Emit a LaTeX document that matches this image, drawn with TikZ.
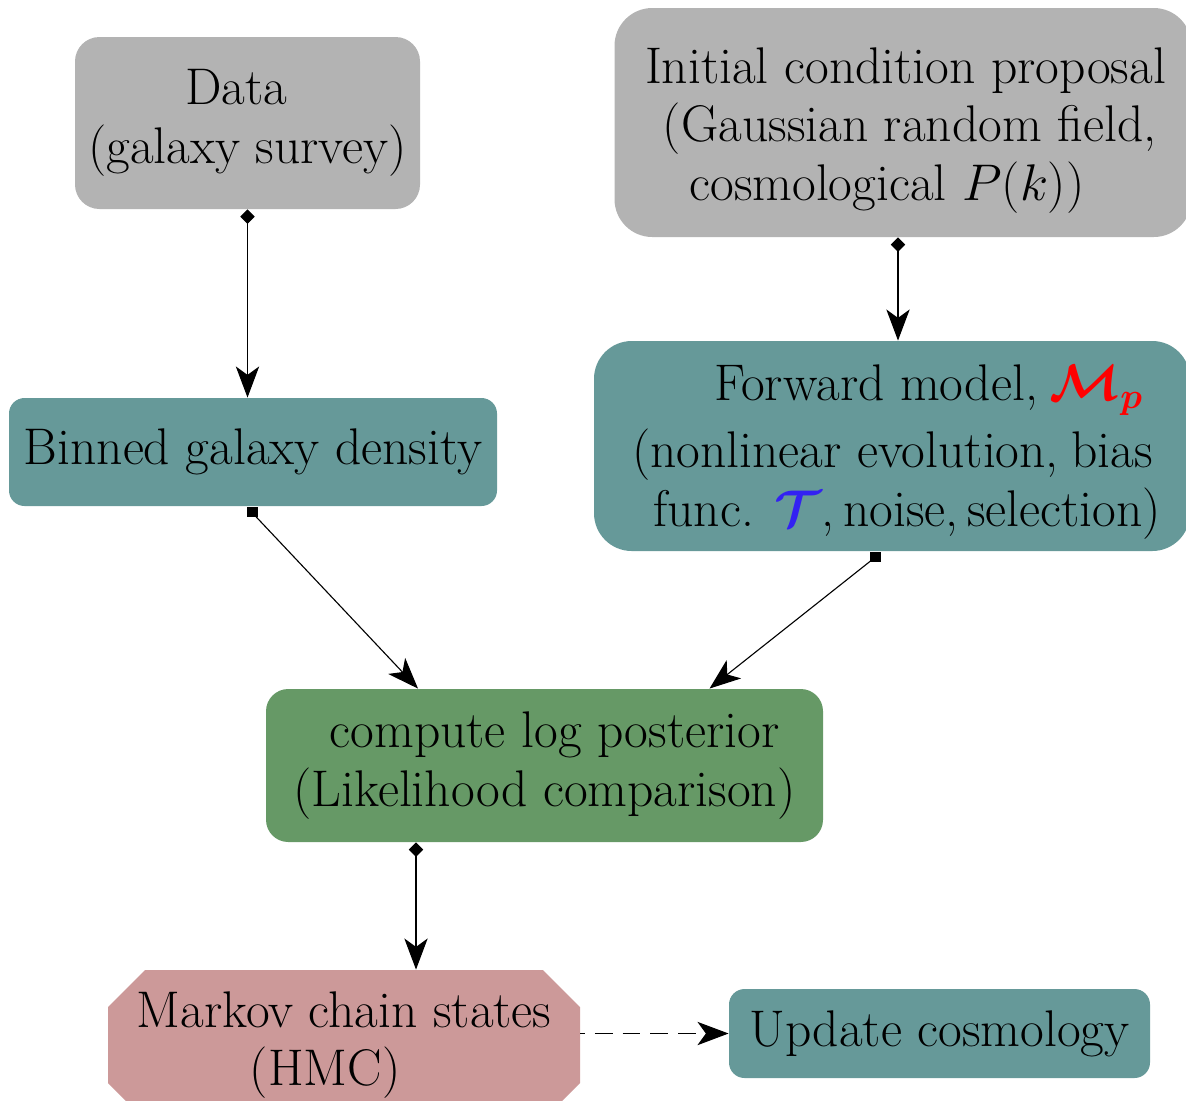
\documentclass[tikz,border=0pt]{standalone}
\usepackage{amsmath,bm}
\DeclareFontShape{OML}{cmm}{m}{it}{<->cmmi12}{}
\DeclareFontShape{OML}{cmm}{b}{it}{<->cmmib10}{}
\DeclareFontShape{OMS}{cmsy}{m}{n}{<->cmsy10}{}
\DeclareFontShape{OMS}{cmsy}{b}{n}{<->cmbsy10}{}
\DeclareFontShape{OT1}{cmr}{m}{n}{<->cmr17}{}
\DeclareFontShape{OT1}{cmr}{bx}{n}{<->cmbx12}{}
\DeclareFontShape{OMX}{cmex}{m}{n}{<->cmex10}{}
\usetikzlibrary{arrows.meta,calc}
\definecolor{boxgray}{HTML}{B3B3B3}
\definecolor{boxteal}{HTML}{669999}
\definecolor{boxgreen}{HTML}{669966}
\definecolor{boxpink}{HTML}{CC9999}
\definecolor{mathblue}{rgb}{0.2,0.13,0.95}
\def\pxu{0.45pt}
\tikzset{
  txt/.style={inner sep=0pt, font=\fontsize{23.2}{26.4}\selectfont},
  box/.style={draw=none, rounded corners=#1, inner sep=0pt, font=\fontsize{23.2}{26.4}\selectfont},
  conn/.style={draw=black, line width=0.5pt},
  stealthend/.style={-{Stealth[length=14pt,width=10.5pt,inset=3.8pt]}},
  dia/.style={{Diamond[length=6.5pt,width=6.5pt]}-{Stealth[length=14pt,width=10.5pt,inset=3.8pt]}},
  sqmark/.style={fill=black},
}
\begin{document}
\begin{tikzpicture}[x=0.45pt,y=-0.45pt]
\useasboundingbox (0,0) rectangle (1186,1100);

\node[box=11pt, fill=boxgray, minimum width=345*\pxu, minimum height=172*\pxu, align=center]
  (data) at (247.5,123) {Data\hspace*{10pt}\\(galaxy survey)};

\node[box=17pt, fill=boxgray, minimum width=577*\pxu, minimum height=229*\pxu]
  (initial) at (903,122.5) {};
\node[txt, align=left] (initialtext) at (905.5,130.5)
  {Initial condition proposal\\\hspace*{8pt}(Gaussian random field,\\\hspace*{20pt}cosmological $P(k)$)};

\node[box=7pt, fill=boxteal, minimum width=488*\pxu, minimum height=108*\pxu]
  (binned) at (253,452) {Binned galaxy density};

\node[box=17pt, fill=boxteal, minimum width=596*\pxu, minimum height=210*\pxu]
  (forward) at (892,446) {};
\node[txt, align=left] (forwardtext) at (896.5,452)
  {\hspace*{37pt}Forward model,\hspace{0.22em}\textcolor{red}{$\bm{\mathcal{M}_p}$}\\[4pt]
   (nonlinear evolution,\hspace{0.24em}bias\\
   \hspace*{9.5pt}func. \textcolor{mathblue}{$\bm{\mathcal{T}}$},\hspace{0.17em}noise,\hspace{0.17em}selection)};

\node[box=10pt, fill=boxgreen, minimum width=557*\pxu, minimum height=153*\pxu, align=center]
  (compute) at (544.5,765.5) {\hspace*{9pt}compute log posterior\\(Likelihood comparison)};

% octagonal (chamfered) box
\coordinate (mc) at (344,1045);
\fill[boxpink] ($(mc)+(-236,-38)$) -- ($(mc)+(-199,-75)$) -- ($(mc)+(199,-75)$) -- ($(mc)+(236,-38)$)
  -- ($(mc)+(236,38)$) -- ($(mc)+(199,75)$) -- ($(mc)+(-199,75)$) -- ($(mc)+(-236,38)$) -- cycle;
\node[txt, minimum width=472*\pxu, minimum height=150*\pxu, align=center]
  (markov) at (mc) {Markov chain states\\(HMC)\hspace*{17pt}};

\node[box=7pt, fill=boxteal, minimum width=421*\pxu, minimum height=89*\pxu]
  (update) at (939.5,1033.5) {Update cosmology};

\draw[conn, dia] (data.south) -- (data.south |- binned.north);
\draw[conn, dia] ($(initial.south)+(-5,0)$) -- ($(initial.south |- forward.north)+(-5,0)$);

\coordinate (sq1) at ($(binned.south)+(-1,6)$);
\coordinate (sq2) at ($(forward.south)+(-17,6)$);
\draw[conn, stealthend] (sq1) -- ($(compute.north)+(-126.5,0)$);
\draw[conn, stealthend] (sq2) -- ($(compute.north)+(165,0)$);
\fill[sqmark] ($(sq1)+(-5.5,-5)$) rectangle ($(sq1)+(5.5,5)$);
\fill[sqmark] ($(sq2)+(-5.5,-5)$) rectangle ($(sq2)+(5.5,5)$);

\draw[conn, dia] ($(compute.south)+(-128.5,0)$) -- ($(markov.north)+(72,0)$);
\draw[conn, stealthend, dash pattern=on 8pt off 4.5pt, dash phase=6pt] (markov.east |- update.west) -- (update.west);
\end{tikzpicture}
\end{document}
